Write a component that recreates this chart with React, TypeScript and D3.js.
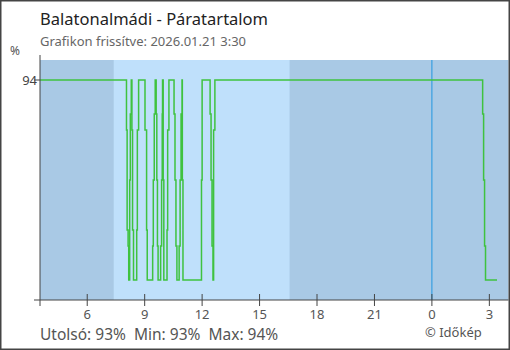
import React from "react";
import * as d3 from "d3";

const titleText = "Balatonalmádi - Páratartalom";
const subtitleText = "Grafikon frissítve: 2026.01.21 3:30";
const statsText = "Utolsó: 93%  Min: 93%  Max: 94%";
const creditText = "© Időkép";
const unitText = "%";

const domainStart = "2026-01-20 03:32";
const domainEnd = "2026-01-21 04:00";
const dayBandStart = "2026-01-20 07:23";
const dayBandEnd = "2026-01-20 16:34";
const midnight = "2026-01-21 00:00";

const yDomain = [92.9, 94.1];
const yTickValues = [94];

const obsTimes = [
  "2026-01-20 03:32", "2026-01-20 08:03", "2026-01-20 08:05", "2026-01-20 08:08",
  "2026-01-20 08:10", "2026-01-20 08:13", "2026-01-20 08:15", "2026-01-20 08:18",
  "2026-01-20 08:20", "2026-01-20 08:22", "2026-01-20 08:25", "2026-01-20 08:35",
  "2026-01-20 08:37", "2026-01-20 08:41", "2026-01-20 09:01", "2026-01-20 09:06",
  "2026-01-20 09:08", "2026-01-20 09:25", "2026-01-20 09:27", "2026-01-20 09:30",
  "2026-01-20 09:33", "2026-01-20 09:36", "2026-01-20 09:38", "2026-01-20 09:40",
  "2026-01-20 09:42", "2026-01-20 09:50", "2026-01-20 09:53", "2026-01-20 09:55",
  "2026-01-20 09:56", "2026-01-20 09:58", "2026-01-20 10:00", "2026-01-20 10:10",
  "2026-01-20 10:12", "2026-01-20 10:16", "2026-01-20 10:32", "2026-01-20 10:35",
  "2026-01-20 10:38", "2026-01-20 10:41", "2026-01-20 10:48", "2026-01-20 10:51",
  "2026-01-20 10:54", "2026-01-20 10:57", "2026-01-20 10:58", "2026-01-20 11:00",
  "2026-01-20 11:58", "2026-01-20 12:00", "2026-01-20 12:25", "2026-01-20 12:28",
  "2026-01-20 12:31", "2026-01-20 12:34", "2026-01-20 12:36", "2026-01-20 12:40",
  "2026-01-21 02:39", "2026-01-21 02:42", "2026-01-21 02:45", "2026-01-21 02:48",
  "2026-01-21 03:24",
];
const obsValues = [
  94, 93.75, 93.25, 93.17,
  93, 93.5, 93.83, 94,
  93.75, 93.25, 93, 93.25,
  93.75, 94, 93.75, 93.25,
  93, 93.17, 93.5, 93.83,
  94, 93.83, 93.5, 93.17,
  93, 93.17, 93.5, 93.83,
  94, 93.5, 93, 93.25,
  93.75, 94, 93.83, 93.5,
  93.17, 93, 93.17, 93.5,
  93.83, 94, 93.5, 93,
  93.5, 94, 93.83, 93.5,
  93.17, 93, 93.75, 94,
  93.83, 93.5, 93.17, 93,
  93,
];

const parse = d3.timeParse("%Y-%m-%d %H:%M");

export default function App() {
  const W = 510, H = 350;
  const left = 40, right = 508.5, top = 60, bottom = 300;
  const x = d3.scaleTime().domain([parse(domainStart)!, parse(domainEnd)!]).range([left, right]);
  const y = d3.scaleLinear().domain(yDomain).range([bottom, top]);
  const pts = obsTimes.map((t, i) => [parse(t)!, obsValues[i]] as [Date, number]);
  const line = d3.line<[Date, number]>().x(d => x(d[0])).y(d => y(d[1])).curve(d3.curveStepAfter);
  const xTicks = x.ticks(d3.timeHour.every(3)!);
  const fmt = d3.timeFormat("%-H");
  const font = "'Noto Sans', 'Open Sans', sans-serif";
  const axisColor = "#444";
  const dark = "#a9c9e5";
  const light = "#bfe0fb";
  return (
    <svg width={W} height={H} style={{ position: "absolute", left: 0, top: 0, display: "block" }} fontFamily={font}>
      <rect x={0} y={0} width={W} height={H} fill="#fff" />
      <rect x={left} y={top} width={right - left} height={bottom - top} fill={dark} />
      <rect x={x(parse(dayBandStart)!)} y={top} width={x(parse(dayBandEnd)!) - x(parse(dayBandStart)!)} height={bottom - top} fill={light} />
      <line x1={x(parse(midnight)!)} x2={x(parse(midnight)!)} y1={top} y2={bottom} stroke="#2196e0" strokeWidth={1} />
      <path d={line(pts) || ""} fill="none" stroke="#3fc23f" strokeWidth={1.5} />
      <line x1={left} x2={left} y1={55} y2={306} stroke={axisColor} strokeWidth={1} />
      <line x1={34} x2={right} y1={bottom} y2={bottom} stroke={axisColor} strokeWidth={1} />
      {yTickValues.map(v => (
        <g key={v}>
          <line x1={34} x2={left} y1={y(v)} y2={y(v)} stroke={axisColor} />
          <text x={37} y={y(v)} dy="0.35em" textAnchor="end" fontSize={13} fill="#444">{v}</text>
        </g>
      ))}
      <text x={15} y={55} textAnchor="middle" fontSize={12} fill="#555">{unitText}</text>
      {xTicks.map((t, i) => (
        <g key={i}>
          <line x1={x(t)} x2={x(t)} y1={294} y2={306} stroke={axisColor} />
          <text x={x(t)} y={318.5} textAnchor="middle" fontSize={13} fill="#555">{fmt(t)}</text>
        </g>
      ))}
      <text x={40} y={25} fontSize={16.5} fill="#222">{titleText}</text>
      <text x={40} y={46} fontSize={13} fill="#666">{subtitleText}</text>
      <text x={40} y={339.5} fontSize={15.5} fill="#555" style={{ whiteSpace: "pre" }}>{statsText}</text>
      <text x={425} y={337} fontSize={13} fill="#555">{creditText}</text>
      <rect x={0.75} y={0.75} width={W - 1.5} height={H - 1.5} fill="none" stroke="#444" strokeWidth={1.5} />
    </svg>
  );
}
